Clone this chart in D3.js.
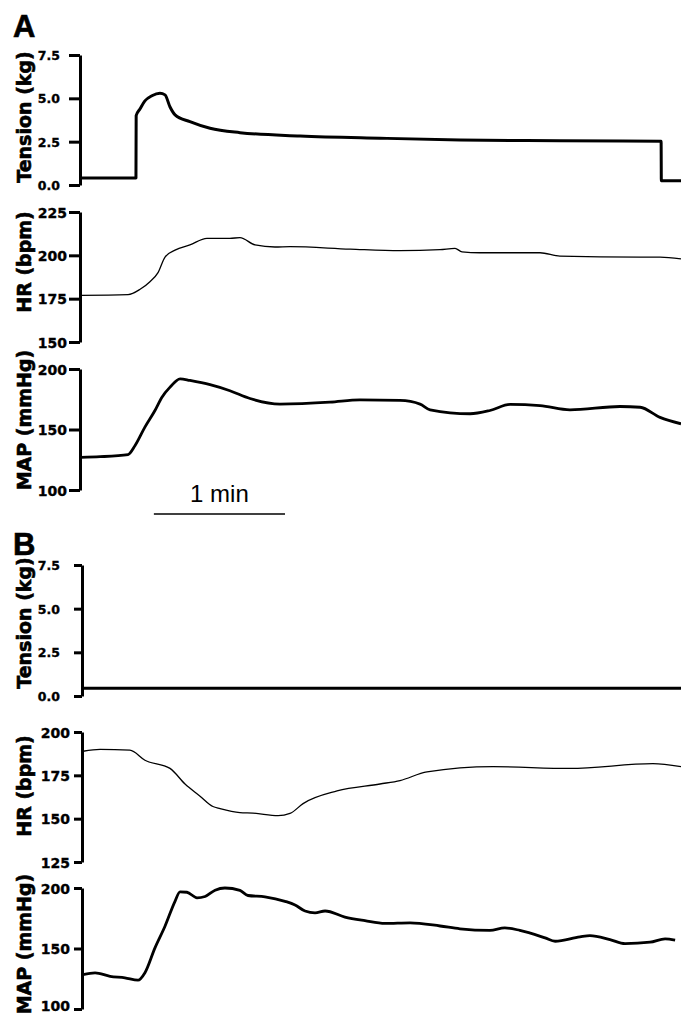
<!DOCTYPE html>
<html><head><meta charset="utf-8">
<script src="https://cdn.jsdelivr.net/npm/d3@7"></script>
<style>
html,body{margin:0;padding:0;background:#fff;}
svg{display:block;}
.tk text{font-family:"DejaVu Sans",sans-serif;font-weight:bold;fill:#000;stroke:#000;stroke-width:0.35;}
</style></head>
<body>
<script>
// time (s), value pairs
const tensionA_t = [0.5, 25.6, 25.7, 27.5, 29.7, 32.9, 36.6, 38.9, 41.2, 43.5, 50.3, 59.5, 73.2, 100.7, 137.3, 173.9, 219.6, 265.9, 266.0, 275];
const tensionA_v = [0.4, 0.4, 4.0, 4.4, 4.85, 5.15, 5.3, 5.2, 4.5, 4.05, 3.65, 3.27, 3.02, 2.83, 2.7, 2.6, 2.55, 2.52, 0.25, 0.25];

const hrA_t = [0.5, 22, 27.5, 32, 35.7, 38.9, 43.5, 50.3, 58.1, 68.6, 73.2, 80.1, 89.2, 96.1, 123.6, 146.4, 164.7, 171.6, 174.8, 183, 210.5, 219.6, 256.3, 265.4, 275];
const hrA_v = [176.9, 177.3, 180.4, 184.8, 190, 199, 203, 206, 209.8, 209.8, 210.2, 206, 204.8, 205, 203.6, 202.7, 203.3, 204, 202, 201.5, 201.5, 199.6, 199, 199, 198];

const mapA_t = [0.5, 9.2, 22, 25.2, 29.7, 34.3, 37.5, 41.2, 45.8, 50.3, 59.5, 68.6, 77.8, 91.5, 114.4, 128.1, 146.4, 155.6, 160.2, 178.5, 187.6, 196.8, 210.5, 224.2, 247.1, 256.3, 265.4, 275];
const mapA_v = [127, 127.5, 129.3, 136.8, 152, 165.7, 176.7, 185, 191.9, 190.5, 187, 182, 175.6, 171, 172.6, 174.5, 174, 171, 166.3, 163, 165.7, 170.7, 169.8, 166.3, 169, 168.4, 160, 154.7];

const tensionB_t = [0.5, 275];
const tensionB_v = [0.45, 0.45];

const hrB_t = [0.5, 8.3, 22, 28.9, 40.4, 47.3, 54.2, 60.1, 63.4, 72.5, 78.5, 90, 95.5, 101.5, 117.1, 136.8, 146, 158.4, 188.7, 224, 262.1, 275];
const hrB_v = [188.9, 190, 189.5, 183.7, 179, 170, 163, 157, 155.8, 153.5, 153.2, 151.7, 153, 158.7, 166, 170, 172, 177, 180, 179, 181.7, 180];

const mapB_t = [0.5, 6, 12.9, 19.7, 25.7, 28.9, 33.5, 38.1, 42.7, 45, 48.2, 52.8, 56.5, 61.1, 65.6, 72.5, 76.2, 84, 93.2, 97.8, 102.4, 107, 111.6, 120.7, 129.9, 139.1, 150.6, 164.4, 173.5, 187.3, 194.1, 201, 212.6, 217.2, 228.6, 233.2, 242.4, 249.3, 260.8, 267.7, 272.3];
const mapB_v = [128.5, 129.9, 127, 125.8, 123.8, 130, 150.5, 168.4, 189, 196.8, 196.5, 191.9, 193, 198.2, 200, 198, 193.8, 192.7, 189, 186, 181, 179.5, 181, 176, 173, 170.7, 171.2, 168.6, 166.3, 165, 167, 165, 158.8, 156, 159.7, 160.7, 157.4, 154, 155.2, 158, 157];

const tensionTicks = [0, 2.5, 5, 7.5];
const hrATicks = [150, 175, 200, 225];
const mapTicks = [100, 150, 200];
const hrBTicks = [125, 150, 175, 200];

const W = 681, H = 1016;
const svg = d3.select("body").append("svg").attr("width", W).attr("height", H);

const panels = [
  {t: tensionA_t, v: tensionA_v, dom: [0, 7.5], y0: 185, y1: 55, ax: 80, ts: 11, pad: 9, ticks: tensionTicks, fmt: d3.format(".1f"), fs: 12.5, sw: 3, label: "Tension (kg)", lx: 31, ly: 117},
  {t: hrA_t, v: hrA_v, dom: [150, 225], y0: 342, y1: 212, ax: 80, ts: 11, pad: 2, ticks: hrATicks, fmt: d3.format("d"), fs: 14, sw: 1.3, label: "HR (bpm)", lx: 31, ly: 262},
  {t: mapA_t, v: mapA_v, dom: [100, 200], y0: 490, y1: 369, ax: 80, ts: 11, pad: 2, ticks: mapTicks, fmt: d3.format("d"), fs: 14, sw: 2.8, label: "MAP (mmHg)", lx: 31, ly: 420},
  {t: tensionB_t, v: tensionB_v, dom: [0, 7.5], y0: 696, y1: 565, ax: 82, ts: 8, pad: 14, ticks: tensionTicks, fmt: d3.format(".1f"), fs: 12.5, sw: 3, label: "Tension (kg)", lx: 31, ly: 623},
  {t: hrB_t, v: hrB_v, dom: [125, 200], y0: 862, y1: 732, ax: 82, ts: 8, pad: 4, ticks: hrBTicks, fmt: d3.format("d"), fs: 14, sw: 1.3, label: "HR (bpm)", lx: 31, ly: 786},
  {t: mapB_t, v: mapB_v, dom: [100, 200], y0: 1009, y1: 888, ax: 82, ts: 8, pad: 4, ticks: mapTicks, fmt: d3.format("d"), fs: 14, sw: 2.8, label: "MAP (mmHg)", lx: 31, ly: 944}
];

panels.forEach(p => {
  const x = d3.scaleLinear().domain([0, 275]).range([p.ax, 681]);
  const y = d3.scaleLinear().domain(p.dom).range([p.y0, p.y1]);
  const g = svg.append("g").attr("class", "tk").attr("transform", `translate(${p.ax},0)`);
  g.call(d3.axisLeft(y).tickValues(p.ticks).tickFormat(p.fmt).tickSize(p.ts).tickSizeOuter(0).tickPadding(p.pad));
  g.select(".domain").attr("stroke", "#000").attr("stroke-width", 3);
  g.selectAll(".tick line").attr("stroke", "#000").attr("stroke-width", 3);
  g.selectAll(".tick text").attr("font-size", p.fs).attr("dy", "0.36em");
  // keep the lowest label inside the picture
  if (p.y0 > 1000) g.selectAll(".tick text").filter(d => d === p.dom[0]).attr("dy", "0.12em");
  const data = p.t.map((t, i) => [t, p.v[i]]);
  svg.append("path").datum(data)
    .attr("fill", "none").attr("stroke", "#000").attr("stroke-width", p.sw)
    .attr("stroke-linejoin", "round")
    .attr("d", d3.line().x(d => x(d[0])).y(d => y(d[1])).curve(d3.curveMonotoneX));
  svg.append("text").attr("transform", `translate(${p.lx},${p.ly}) rotate(-90)`)
    .attr("text-anchor", "middle")
    .attr("font-family", "DejaVu Sans, sans-serif").attr("font-weight", "bold")
    .attr("font-size", 19).attr("stroke", "#000").attr("stroke-width", 0.6)
    .text(p.label);
});

// panel letters
svg.append("text").attr("x", 13).attr("y", 37).attr("font-family", "Liberation Sans, Arial, sans-serif")
  .attr("font-weight", "bold").attr("font-size", 31).attr("stroke", "#000").attr("stroke-width", 0.6).text("A");
svg.append("text").attr("x", 13).attr("y", 555).attr("font-family", "Liberation Sans, Arial, sans-serif")
  .attr("font-weight", "bold").attr("font-size", 31).attr("stroke", "#000").attr("stroke-width", 0.6).text("B");

// scale bar: 1 min
const xs = d3.scaleLinear().domain([0, 275]).range([80, 681]);
svg.append("line").attr("x1", xs(33.8)).attr("x2", xs(33.8 + 60)).attr("y1", 514).attr("y2", 514)
  .attr("stroke", "#000").attr("stroke-width", 1.5);
svg.append("text").attr("x", (xs(33.8) + xs(93.8)) / 2).attr("y", 502).attr("text-anchor", "middle")
  .attr("font-family", "Liberation Sans, Arial, sans-serif").attr("font-size", 24).text("1 min");
</script>
</body></html>
